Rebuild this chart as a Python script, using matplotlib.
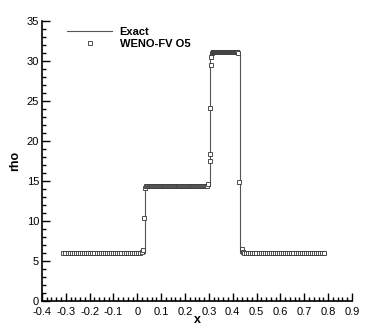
import numpy as np
import matplotlib
matplotlib.use("Agg")
import matplotlib.pyplot as plt
from matplotlib.ticker import MultipleLocator
from matplotlib.transforms import ScaledTranslation

plt.rcParams['font.family'] = ['Liberation Sans', 'DejaVu Sans']

# exact solution (piecewise constant)
exact_x = [-0.31, 0.031, 0.031, 0.306, 0.306, 0.430, 0.430, 0.784]
exact_rho = [6.0, 6.0, 14.28, 14.28, 31.0, 31.0, 6.0, 6.0]

# numerical solution: flat runs of cells (x start, x end, n cells, rho)
runs_start = [-0.31, 0.036, 0.316, 0.448]
runs_end = [0.012, 0.282, 0.420, 0.784]
runs_count = [38, 64, 60, 40]
runs_rho = [6.0, 14.30, 31.10, 6.0]

# cells in and around the jumps
jump_x = [0.018, 0.022, 0.030, 0.033, 0.287, 0.292, 0.297, 0.3045, 0.305,
          0.306, 0.307, 0.309, 0.312, 0.424, 0.428, 0.438, 0.442]
jump_rho = [6.05, 6.4, 10.3, 14.1, 14.35, 14.4, 14.6, 17.4, 18.3,
            24.1, 29.4, 30.5, 30.9, 31.0, 14.9, 6.5, 6.1]


def main():
    wx = []
    wr = []
    for a, b, n, r in zip(runs_start, runs_end, runs_count, runs_rho):
        wx.extend(np.linspace(a, b, n))
        wr.extend([r] * n)
    wx.extend(jump_x)
    wr.extend(jump_rho)
    order = np.argsort(wx)
    wx = np.array(wx)[order]
    wr = np.array(wr)[order]

    fig = plt.figure(figsize=(3.74, 3.32), dpi=100)
    ax = fig.add_axes([0.112, 0.094, 0.829, 0.844])

    ax.plot(exact_x, exact_rho, color='#555555', lw=0.8, label='Exact')
    ax.plot(wx, wr, ls='none', marker='s', ms=2.3, mfc='white',
            mec='#333333', mew=0.6, label='WENO-FV O5')

    ax.set_xlim(-0.4, 0.9)
    ax.set_ylim(0, 35)
    ax.xaxis.set_major_locator(MultipleLocator(0.1))
    ax.xaxis.set_minor_locator(MultipleLocator(0.02))
    ax.yaxis.set_major_locator(MultipleLocator(5))
    ax.yaxis.set_minor_locator(MultipleLocator(1))
    ax.xaxis.set_major_formatter(lambda v, p: f"{v:.1f}" if abs(v) > 1e-9 else "0")
    ax.tick_params(which='both', direction='in', labelsize=8, width=1.0)
    ax.tick_params(which='major', length=6)
    ax.tick_params(axis='x', which='major', pad=4.5)
    ax.tick_params(axis='y', which='major', pad=2)
    ax.tick_params(which='minor', length=3)
    for s in ['top', 'right']:
        ax.spines[s].set_visible(False)
    for s in ['left', 'bottom']:
        ax.spines[s].set_linewidth(1.2)

    ax.set_xlabel('x', fontsize=9, fontweight='bold', labelpad=-2)
    ax.set_ylabel('rho', fontsize=9, fontweight='bold', labelpad=4)

    ax.legend(loc='upper left', bbox_to_anchor=(0.05, 1.012), frameon=False,
              prop={'size': 8, 'weight': 'bold'}, handlelength=4.0,
              handletextpad=0.7, labelspacing=0.15)

    fig.canvas.draw()
    lab0 = ax.get_yticklabels()[0]
    lab0.set_transform(lab0.get_transform() + ScaledTranslation(0, 0.025, fig.dpi_scale_trans))

    fig.savefig('out.png', dpi=100)


if __name__ == '__main__':
    main()
